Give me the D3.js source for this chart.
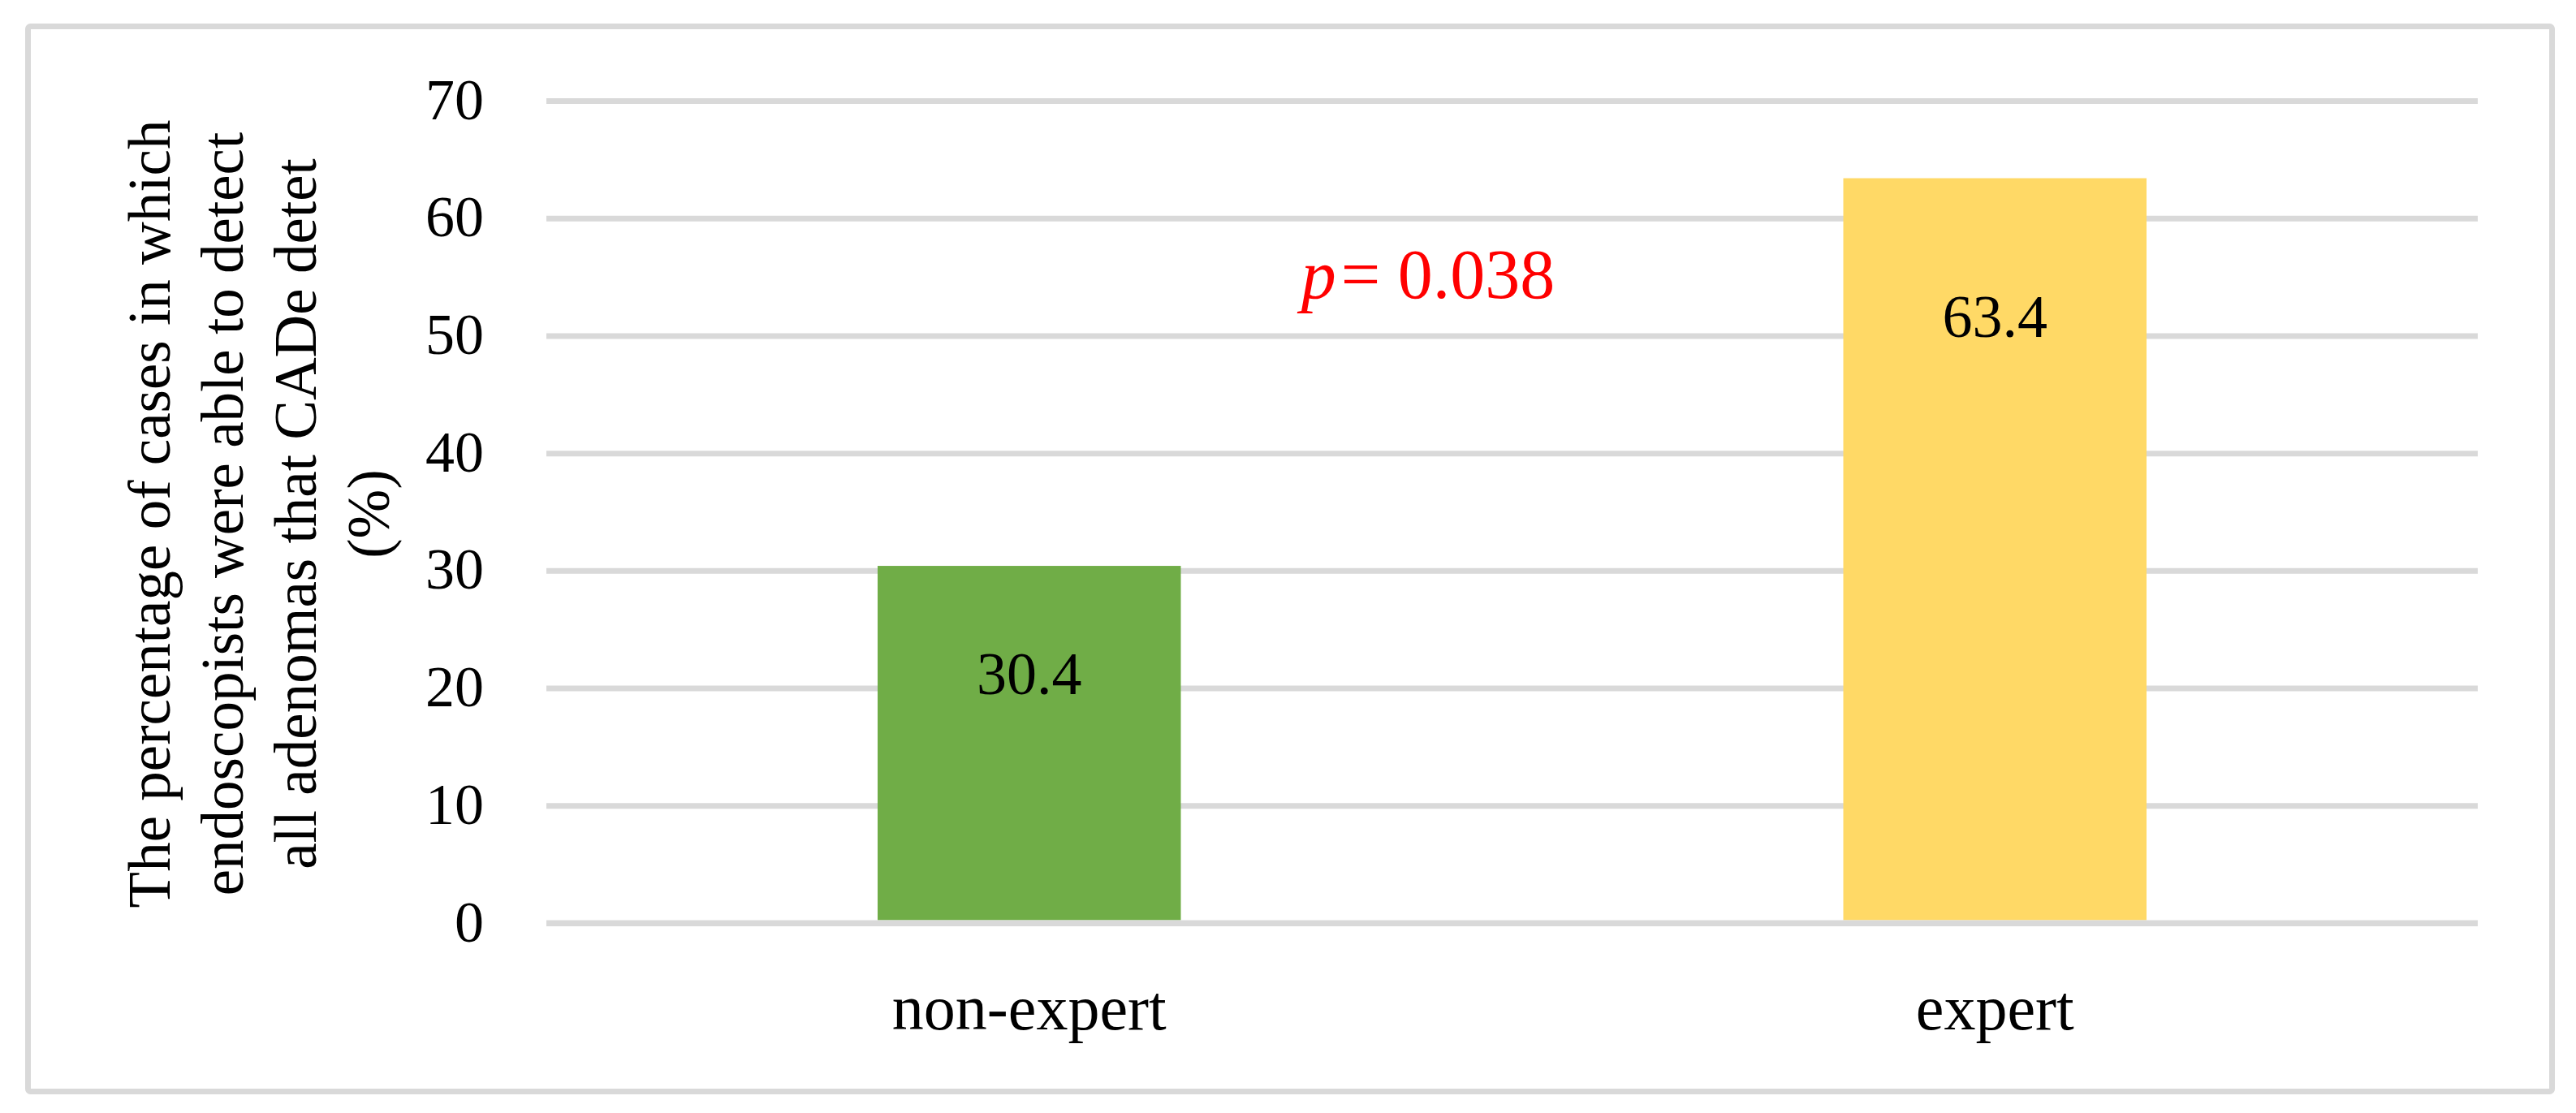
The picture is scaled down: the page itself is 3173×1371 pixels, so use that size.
<!DOCTYPE html>
<html>
<head>
<meta charset="utf-8">
<script src="https://cdn.jsdelivr.net/npm/d3@7"></script>
<style>
  body { margin: 0; background: #fff; }
  text { font-family: "Palatino Linotype", "Book Antiqua", Palatino, "Liberation Serif", serif; }
</style>
</head>
<body>
<script>
// data
var categories = ["non-expert", "expert"];
var values = [30.4, 63.4];
var yTicks = [0, 10, 20, 30, 40, 50, 60, 70];
var yTitle = ["The percentage of cases in which",
              "endoscopists were able to detect",
              "all adenomas that CADe detet",
              "(%)"];
var pText = ["p", "= 0.038"];

var barColors = ["#70AD47", "#FFD966"];
// how far below the bar top each value label sits (as placed in the original)
var labelDrop = {"non-expert": 158, "expert": 195};

var W = 3173, H = 1371;
var plot = {left: 673, right: 3052, top: 124, bottom: 1137};

var svg = d3.select("body").append("svg")
    .attr("width", W)
    .attr("height", H);

// outer frame
svg.append("rect")
    .attr("x", 34.5).attr("y", 32.5)
    .attr("width", 3109).attr("height", 1312)
    .attr("rx", 3)
    .attr("fill", "#fff")
    .attr("stroke", "#D9D9D9")
    .attr("stroke-width", 7);

var x = d3.scaleBand()
    .domain(categories)
    .range([plot.left, plot.right])
    .paddingInner(0.686)
    .paddingOuter(0.343);

var y = d3.scaleLinear()
    .domain([0, 70])
    .range([plot.bottom, plot.top]);

// gridlines + tick labels
var yAxis = svg.append("g")
    .attr("transform", "translate(" + plot.left + ",0)")
    .call(d3.axisLeft(y)
        .tickValues(yTicks)
        .tickSize(-(plot.right - plot.left))
        .tickPadding(77)
        .tickFormat(d3.format("d")));
yAxis.select(".domain").remove();
yAxis.selectAll(".tick line")
    .attr("stroke", "#D9D9D9")
    .attr("stroke-width", 7);
yAxis.selectAll(".tick text")
    .attr("fill", "#000")
    .attr("dy", null)
    .attr("y", 22)
    .style("font-size", "72px");

// bars
var data = categories.map(function(c, i){ return {cat: c, value: values[i], color: barColors[i]}; });

svg.selectAll(".bar").data(data)
  .enter().append("rect").attr("class", "bar")
    .attr("x", function(d){ return x(d.cat); })
    .attr("y", function(d){ return y(d.value); })
    .attr("width", x.bandwidth())
    .attr("height", function(d){ return y(0) - y(d.value) - 3.5; })
    .attr("fill", function(d){ return d.color; });

// zero line sits over the bars
svg.append("line")
    .attr("x1", plot.left).attr("x2", plot.right)
    .attr("y1", y(0)).attr("y2", y(0))
    .attr("stroke", "#D9D9D9")
    .attr("stroke-width", 7);

// value labels
svg.selectAll(".val").data(data)
  .enter().append("text").attr("class", "val")
    .attr("x", function(d){ return x(d.cat) + x.bandwidth()/2; })
    .attr("y", function(d){ return y(d.value) + labelDrop[d.cat]; })
    .attr("text-anchor", "middle")
    .style("font-size", "74px")
    .text(function(d){ return d.value.toFixed(1); });

// category labels
svg.selectAll(".cat").data(categories)
  .enter().append("text").attr("class", "cat")
    .attr("x", function(d){ return x(d) + x.bandwidth()/2; })
    .attr("y", 1268)
    .attr("text-anchor", "middle")
    .style("font-size", "78px")
    .text(function(d){ return d; });

// y axis title, four rotated lines
svg.selectAll(".ytitle").data(yTitle)
  .enter().append("text").attr("class", "ytitle")
    .attr("transform", function(d, i){ return "translate(" + (209 + i*90) + ",633) rotate(-90)"; })
    .attr("text-anchor", "middle")
    .style("font-size", "73px")
    .text(function(d){ return d; });

// p-value annotation
var pt = svg.append("text")
    .attr("x", 1759).attr("y", 367)
    .attr("text-anchor", "middle")
    .attr("fill", "#FF0000")
    .style("font-size", "86px");
pt.append("tspan").style("font-style", "italic").text(pText[0]);
pt.append("tspan").attr("dx", 6).text(pText[1]);
</script>
</body>
</html>
